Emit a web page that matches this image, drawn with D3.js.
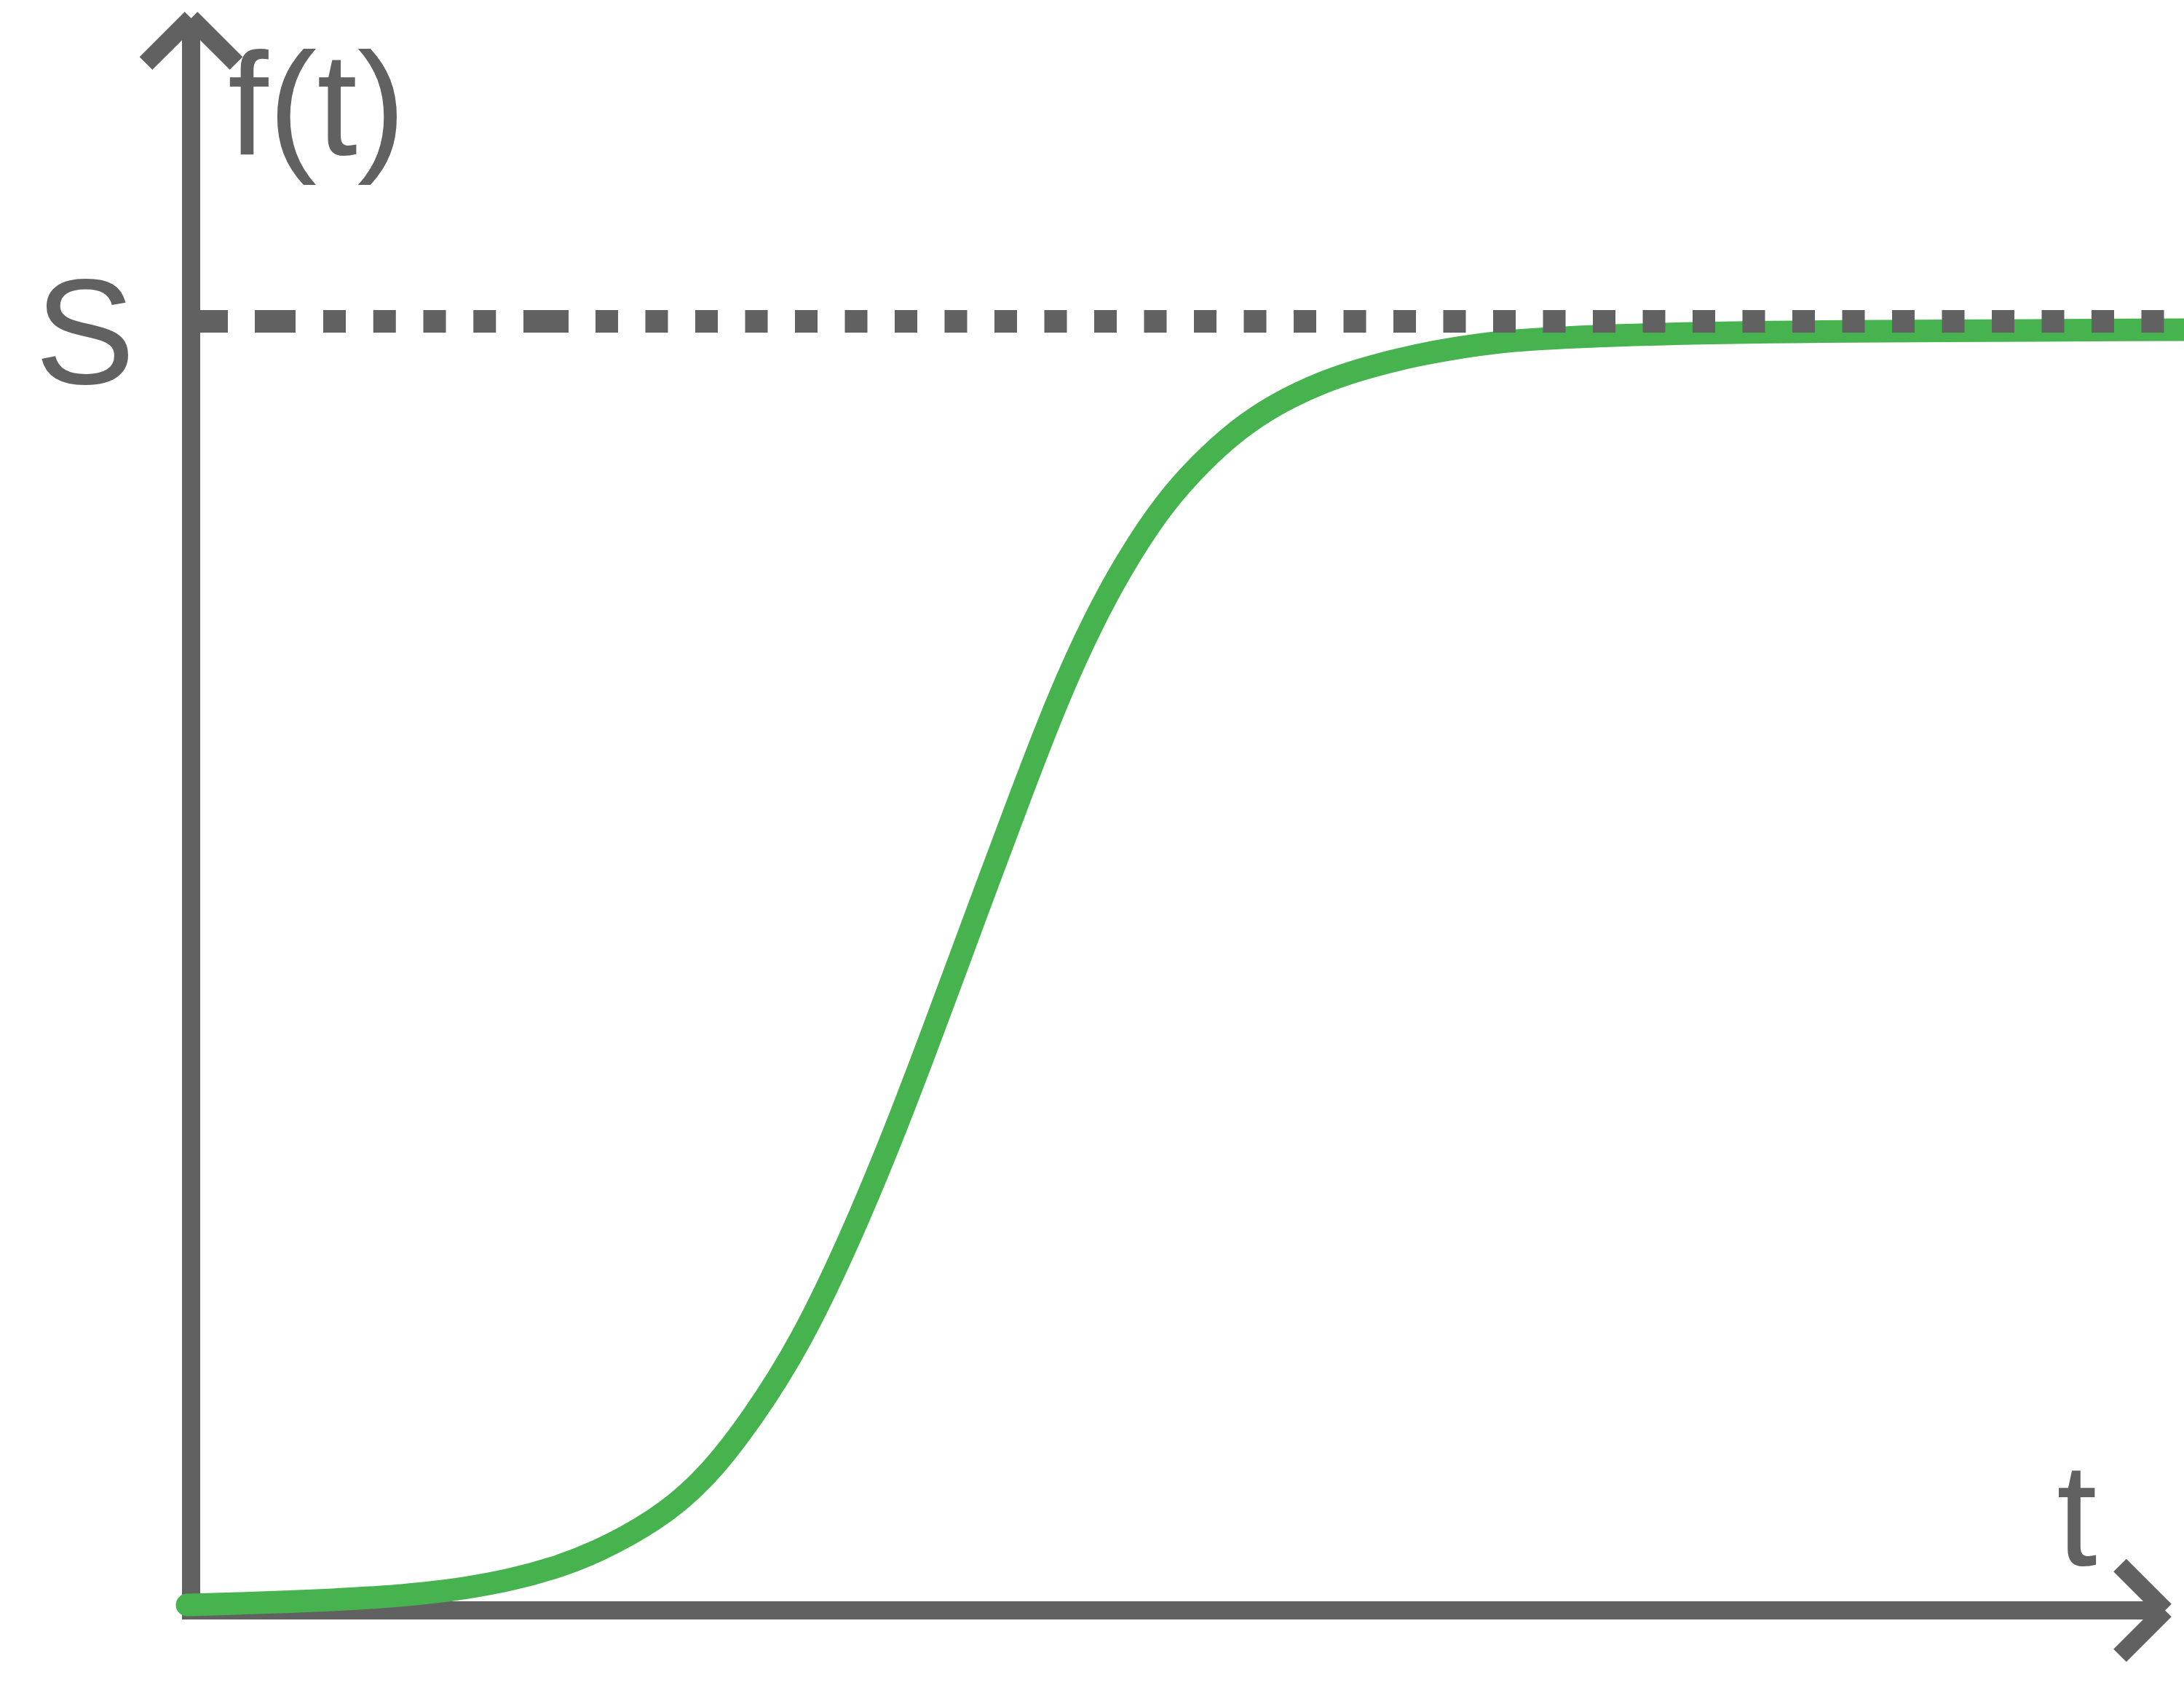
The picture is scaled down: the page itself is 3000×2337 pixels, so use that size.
<!DOCTYPE html>
<html>
<head>
<meta charset="utf-8">
<script src="https://cdn.jsdelivr.net/npm/d3@7"></script>
<style>
  html, body { margin: 0; padding: 0; background: #ffffff; }
  svg { display: block; }
</style>
</head>
<body>
<script>
// ---- data ----
const tValues = [-0.2, 2.49, 5.07, 7.28, 9.50, 11.71, 13.92, 16.14, 18.35, 20.45, 23.51,
  25.98, 28.42, 30.89, 33.36, 35.39, 37.05, 38.82, 40.29, 41.99, 43.94, 45.75, 47.48,
  49.33, 51.17, 53.01, 54.86, 57.33, 59.76, 62.23, 64.08, 65.92, 67.77, 73.30, 82.52, 100.96];
const fValues = [0.42, 0.54, 0.68, 0.82, 1.02, 1.30, 1.72, 2.34, 3.25, 4.43, 6.92,
  10.02, 14.82, 20.75, 28.71, 36.17, 42.77, 50.06, 56.15, 63.10, 70.89, 76.93, 81.73,
  85.97, 89.07, 91.61, 93.53, 95.34, 96.53, 97.43, 97.94, 98.33, 98.62, 99.01, 99.24, 99.35];
const saturationLevel = [100];
const saturationLabel = ["S"];
const yAxisLabel = ["f(t)"];
const xAxisLabel = ["t"];

// ---- layout ----
const W = 3000, H = 2337;
const GRAY = "#616161", GREEN = "#46b34f";
const AXIS_W = 25, ARM = 62;

const svg = d3.select("body").append("svg")
  .attr("width", W).attr("height", H)
  .attr("viewBox", `0 0 ${W} ${H}`);
svg.append("rect").attr("width", W).attr("height", H).attr("fill", "#ffffff");

const x = d3.scaleLinear().domain([0, 100]).range([262.5, 2974]);
const y = d3.scaleLinear().domain([0, 100]).range([2212.5, 441.5]);

const x0 = x(0), y0 = y(0);
const yTop = 25;          // notch of the vertical arrow
const xEnd = x(100);      // notch of the horizontal arrow

const axes = svg.append("g")
  .attr("stroke", GRAY).attr("stroke-width", AXIS_W)
  .attr("stroke-linecap", "butt").attr("fill", "none");

// vertical axis
axes.append("line").attr("x1", x0).attr("x2", x0)
  .attr("y1", y0 + AXIS_W / 2).attr("y2", yTop);
// horizontal axis
axes.append("line").attr("x1", x0 - AXIS_W / 2).attr("x2", xEnd)
  .attr("y1", y0).attr("y2", y0);

// arrow heads: two separate butt-capped arms meeting in a notch
axes.append("line").attr("x1", x0 - ARM).attr("y1", yTop + ARM).attr("x2", x0).attr("y2", yTop);
axes.append("line").attr("x1", x0).attr("y1", yTop).attr("x2", x0 + ARM).attr("y2", yTop + ARM);
axes.append("line").attr("x1", xEnd - ARM).attr("y1", y0 - ARM).attr("x2", xEnd).attr("y2", y0);
axes.append("line").attr("x1", xEnd).attr("y1", y0).attr("x2", xEnd - ARM).attr("y2", y0 + ARM);

// logistic curve
const pts = tValues.map((t, i) => [t, fValues[i]]);
const line = d3.line().x(d => x(d[0])).y(d => y(d[1])).curve(d3.curveBasis);
svg.append("path").datum(pts)
  .attr("d", line)
  .attr("fill", "none")
  .attr("stroke", GREEN)
  .attr("stroke-width", 31)
  .attr("stroke-linecap", "round")
  .attr("stroke-linejoin", "round");

// dotted saturation line
let dash = [63, 37, 56, 38, 31, 37.75, 31, 37.75, 31, 37.75, 31, 37.75, 62, 37];
for (let i = 0; i < 40; i++) dash.push(31, 37.5);
svg.append("line")
  .attr("x1", x0 - AXIS_W / 2).attr("x2", W)
  .attr("y1", y(saturationLevel[0])).attr("y2", y(saturationLevel[0]))
  .attr("stroke", GRAY).attr("stroke-width", 31)
  .attr("stroke-dasharray", dash.join(","));

// labels
const font = "'Liberation Sans', Arial, Helvetica, sans-serif";
svg.append("text").text(yAxisLabel[0])
  .attr("x", 313).attr("y", 212)
  .attr("font-family", font).attr("font-size", 200).attr("fill", GRAY);
svg.append("text").text(saturationLabel[0])
  .attr("x", 48).attr("y", 527)
  .attr("font-family", font).attr("font-size", 206).attr("fill", GRAY);
svg.append("text").text(xAxisLabel[0])
  .attr("x", 2825).attr("y", 2150)
  .attr("font-family", font).attr("font-size", 200).attr("fill", GRAY);
</script>
</body>
</html>
